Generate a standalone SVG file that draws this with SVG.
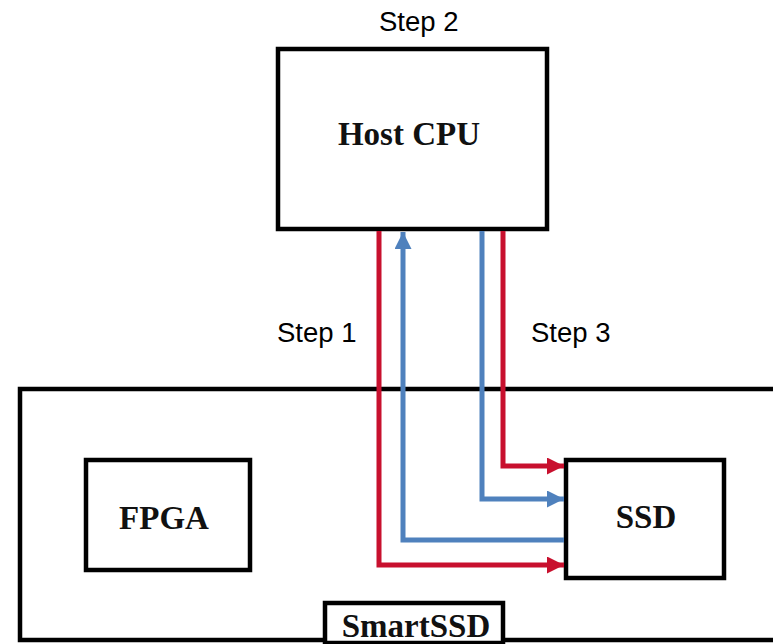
<svg xmlns="http://www.w3.org/2000/svg" width="773" height="644" viewBox="0 0 773 644">
  <style>
    .box { fill: #fff; stroke: #000; stroke-width: 4.5; }
    .title { font-family: "Liberation Serif", "Times New Roman", serif; font-weight: bold; font-size: 33px; fill: #111; text-anchor: middle; }
    .step { font-family: "Liberation Sans", Arial, sans-serif; font-size: 27.5px; fill: #000; }
    .red { fill: none; stroke: #C8102E; stroke-width: 5; }
    .blue { fill: none; stroke: #4F81BD; stroke-width: 5; }
  </style>
  <defs>
    <marker id="headRed" viewBox="0 0 17 17" refX="17" refY="8.5" markerWidth="17" markerHeight="17" markerUnits="userSpaceOnUse" orient="auto">
      <path d="M0,0 L17,8.5 L0,17 Z" fill="#C8102E"/>
    </marker>
    <marker id="headBlue" viewBox="0 0 17 17" refX="17" refY="8.5" markerWidth="17" markerHeight="17" markerUnits="userSpaceOnUse" orient="auto">
      <path d="M0,0 L17,8.5 L0,17 Z" fill="#4F81BD"/>
    </marker>
  </defs>

  <!-- SmartSSD enclosure -->
  <g id="smartssd">
    <rect class="box" x="20" y="389" width="770" height="251"/>
    <rect class="box" x="325" y="603" width="178" height="40"/>
    <text class="title" x="416" y="637">SmartSSD</text>
  </g>

  <g id="host-cpu">
    <rect class="box" x="278" y="49" width="269" height="180"/>
    <text class="title" x="409" y="145">Host CPU</text>
  </g>

  <g id="fpga">
    <rect class="box" x="86" y="460" width="164" height="110"/>
    <text class="title" x="164" y="529">FPGA</text>
  </g>

  <g id="ssd">
    <rect class="box" x="566" y="460" width="158" height="118"/>
    <text class="title" x="646" y="528">SSD</text>
  </g>

  <g id="connectors">
    <!-- Step 1: request down to SSD -->
    <polyline class="red" points="379,231 379,565 564,565" marker-end="url(#headRed)"/>
    <!-- data back up to host -->
    <polyline class="blue" points="564,540 403,540 403,232" marker-end="url(#headBlue)"/>
    <!-- Step 3 -->
    <polyline class="blue" points="482,231 482,499 564,499" marker-end="url(#headBlue)"/>
    <polyline class="red" points="503,231 503,466 564,466" marker-end="url(#headRed)"/>
  </g>

  <g id="labels">
    <text class="step" x="379" y="31">Step 2</text>
    <text class="step" x="277" y="342">Step 1</text>
    <text class="step" x="531" y="342">Step 3</text>
  </g>
</svg>
